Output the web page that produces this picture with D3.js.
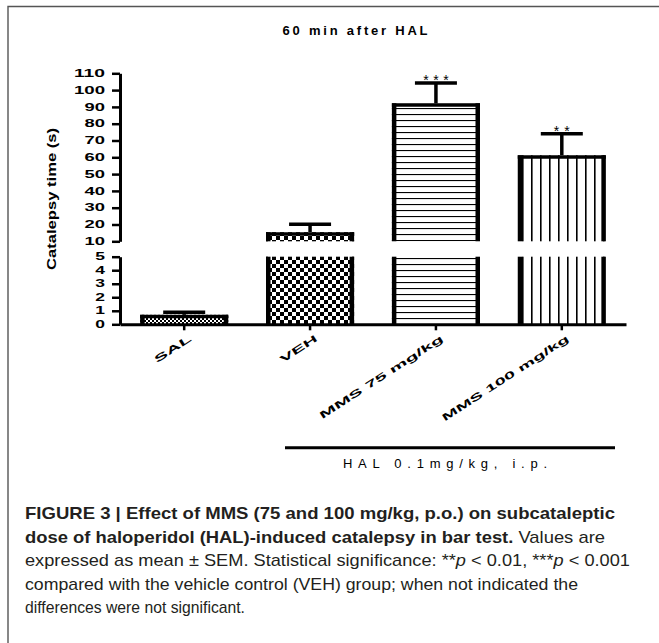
<!DOCTYPE html>
<html>
<head>
<meta charset="utf-8">
<script src="https://cdn.jsdelivr.net/npm/d3@7"></script>
<style>
  body { margin: 0; background: #fff; }
  svg { display: block; }
</style>
</head>
<body>
<div id="chart"></div>
<script>
// values (mean and SEM, seconds)
const groups = ["SAL", "VEH", "MMS 75 mg/kg", "MMS 100 mg/kg"];
const means = [0.7, 15.4, 92.1, 61.2];
const sems = [0.2, 4.7, 12.1, 12.8];
const stars = ["", "", "***", "**"];
const patterns = ["pSal", "pVeh", "pHor", "pVer"];

// broken y axis: lower part 0-5, upper part 10-110
const lowerTicks = [0, 1, 2, 3, 4, 5];
const upperTicks = [10, 20, 30, 40, 50, 60, 70, 80, 90, 100, 110];

const captionLines = [
  [{ t: "FIGURE 3 | Effect of MMS (75 and 100 mg/kg, p.o.) on subcataleptic", b: true }],
  [{ t: "dose of haloperidol (HAL)-induced catalepsy in bar test.", b: true }, { t: " Values are" }],
  [{ t: "expressed as mean \u00b1 SEM. Statistical significance: **" }, { t: "p", i: true },
   { t: " < 0.01, ***" }, { t: "p", i: true }, { t: " < 0.001" }],
  [{ t: "compared with the vehicle control (VEH) group; when not indicated the" }],
  [{ t: "differences were not significant." }]
];
const captionWidths = [590, 580, 605, 553, 220];

const W = 659, H = 643;
const svg = d3.select("#chart").append("svg")
  .attr("width", W)
  .attr("height", H)
  .style("font-family", "'Liberation Sans', Arial, sans-serif");

// frame (top + left rule)
svg.append("path")
  .attr("d", `M8,${H} V6.5 H${W}`)
  .attr("fill", "none")
  .attr("stroke", "#555")
  .attr("stroke-width", 1.4);

// fill patterns
const defs = svg.append("defs");
const pSal = defs.append("pattern").attr("id", "pSal").attr("patternUnits", "userSpaceOnUse")
  .attr("width", 4).attr("height", 4);
pSal.append("rect").attr("width", 4).attr("height", 4).attr("fill", "#fff");
pSal.append("rect").attr("width", 2).attr("height", 2).attr("fill", "#000");
pSal.append("rect").attr("x", 2).attr("y", 2).attr("width", 2).attr("height", 2).attr("fill", "#000");

const pVeh = defs.append("pattern").attr("id", "pVeh").attr("patternUnits", "userSpaceOnUse")
  .attr("width", 8).attr("height", 8);
pVeh.append("rect").attr("width", 8).attr("height", 8).attr("fill", "#fff");
pVeh.append("rect").attr("width", 4).attr("height", 4).attr("fill", "#000");
pVeh.append("rect").attr("x", 4).attr("y", 4).attr("width", 4).attr("height", 4).attr("fill", "#000");

const pHor = defs.append("pattern").attr("id", "pHor").attr("patternUnits", "userSpaceOnUse")
  .attr("width", 6).attr("height", 6);
pHor.append("rect").attr("width", 6).attr("height", 6).attr("fill", "#fff");
pHor.append("rect").attr("width", 6).attr("height", 1.1).attr("fill", "#000");

const pVer = defs.append("pattern").attr("id", "pVer").attr("patternUnits", "userSpaceOnUse")
  .attr("width", 9).attr("height", 9);
pVer.append("rect").attr("width", 9).attr("height", 9).attr("fill", "#fff");
pVer.append("rect").attr("width", 1.6).attr("height", 9).attr("fill", "#000");

// scales
const x = d3.scaleBand()
  .domain(groups)
  .range([120, 626])
  .paddingInner(0.3)
  .paddingOuter(0.16);

const yLow = d3.scaleLinear().domain([0, 5]).range([324.3, 256.7]);
const yUp = d3.scaleLinear().domain([10, 110]).range([241.3, 73.3]);

// value -> pixel on the broken axis
const yAny = v => v <= 5 ? yLow(v) : yUp(v);

// bars
const bw = x.bandwidth();
groups.forEach((g, i) => {
  const x0 = x(g);
  const v = means[i];
  const segs = [];
  segs.push({ top: yLow(Math.min(v, 5)), bottom: yLow(0), capped: v <= 5 });
  if (v > 10) segs.push({ top: yUp(v), bottom: yUp(10), capped: true });

  segs.forEach(s => {
    svg.append("rect")
      .attr("x", x0)
      .attr("y", s.top)
      .attr("width", bw)
      .attr("height", s.bottom - s.top)
      .attr("fill", `url(#${patterns[i]})`);
    // thick side borders
    [x0 + 2.25, x0 + bw - 2.25].forEach(xx => {
      svg.append("line")
        .attr("x1", xx).attr("x2", xx)
        .attr("y1", s.top).attr("y2", s.bottom)
        .attr("stroke", "#000").attr("stroke-width", 4.5);
    });
    if (s.capped) {
      svg.append("line")
        .attr("x1", x0).attr("x2", x0 + bw)
        .attr("y1", s.top + 1.75).attr("y2", s.top + 1.75)
        .attr("stroke", "#000").attr("stroke-width", 3.5);
    }
  });

  // error bar (upper side only)
  const cx = x0 + bw / 2;
  const yTop = yAny(v + sems[i]);
  svg.append("line")
    .attr("x1", cx).attr("x2", cx)
    .attr("y1", yAny(v)).attr("y2", yTop)
    .attr("stroke", "#000").attr("stroke-width", 3.5);
  svg.append("line")
    .attr("x1", cx - 21).attr("x2", cx + 21)
    .attr("y1", yTop).attr("y2", yTop)
    .attr("stroke", "#000").attr("stroke-width", 3.5);

  if (stars[i]) {
    svg.append("text")
      .attr("x", cx)
      .attr("y", yTop + 2)
      .attr("text-anchor", "middle")
      .attr("font-size", 14)
      .attr("textLength", stars[i].length * 9.5 - 3)
      .attr("lengthAdjust", "spacing")
      .text(stars[i]);
  }
});

// y axes (two pieces)
function styleYAxis(g) {
  g.select(".domain").attr("stroke-width", 3);
  g.selectAll(".tick line").attr("stroke-width", 2.5);
  g.selectAll(".tick text")
    .attr("font-size", 10)
    .attr("font-weight", "bold")
    .attr("fill", "#000")
    .attr("textLength", d => String(d).length * 10.7 - 1)
    .attr("lengthAdjust", "spacingAndGlyphs");
}

svg.append("g")
  .attr("transform", "translate(120,0)")
  .call(d3.axisLeft(yUp).tickValues(upperTicks).tickFormat(d3.format("d"))
    .tickSize(8).tickSizeOuter(0).tickPadding(7))
  .call(styleYAxis);

svg.append("g")
  .attr("transform", "translate(120,0)")
  .call(d3.axisLeft(yLow).tickValues(lowerTicks).tickFormat(d3.format("d"))
    .tickSize(8).tickSizeOuter(0).tickPadding(7))
  .call(styleYAxis);

// x axis
const xAxis = svg.append("g")
  .attr("transform", `translate(0,${yLow(0)})`)
  .call(d3.axisBottom(x).tickSize(6).tickSizeOuter(0));
xAxis.select(".domain").attr("stroke-width", 3);
xAxis.selectAll(".tick line").attr("stroke-width", 2.5);
xAxis.selectAll(".tick text").remove();

const xLabelLen = [42, 42, 145, 149];
groups.forEach((g, i) => {
  const cx = x(g) + bw / 2;
  svg.append("text")
    .attr("transform", `translate(${cx + 8},${yLow(0) + 16}) rotate(-33)`)
    .attr("text-anchor", "end")
    .attr("font-size", 10)
    .attr("font-weight", "bold")
    .attr("textLength", xLabelLen[i])
    .attr("lengthAdjust", "spacingAndGlyphs")
    .text(g);
});

// y axis title
svg.append("text")
  .attr("transform", "translate(56,199) rotate(-90)")
  .attr("text-anchor", "middle")
  .attr("font-size", 13)
  .attr("font-weight", "bold")
  .attr("textLength", 142)
  .attr("lengthAdjust", "spacingAndGlyphs")
  .text("Catalepsy time (s)");

// chart title
svg.append("text")
  .attr("x", 355)
  .attr("y", 35)
  .attr("text-anchor", "middle")
  .attr("font-size", 13)
  .attr("font-weight", "bold")
  .attr("textLength", 145)
  .attr("lengthAdjust", "spacing")
  .text("60 min after HAL");

// HAL bracket
svg.append("line")
  .attr("x1", 285).attr("x2", 615)
  .attr("y1", 447.7).attr("y2", 447.7)
  .attr("stroke", "#000").attr("stroke-width", 3);

svg.append("text")
  .attr("x", 445)
  .attr("y", 468)
  .attr("text-anchor", "middle")
  .attr("font-size", 13)
  .attr("textLength", 204)
  .attr("lengthAdjust", "spacing")
  .text("HAL 0.1mg/kg, i.p.");

// caption
captionLines.forEach((parts, i) => {
  const t = svg.append("text")
    .attr("x", 25)
    .attr("y", 519 + i * 23.5)
    .attr("font-size", 17)
    .attr("fill", "#231f20")
    .attr("textLength", captionWidths[i])
    .attr("lengthAdjust", "spacingAndGlyphs");
  parts.forEach(p => {
    t.append("tspan")
      .attr("font-weight", p.b ? "bold" : null)
      .attr("font-style", p.i ? "italic" : null)
      .text(p.t);
  });
});
</script>
</body>
</html>
